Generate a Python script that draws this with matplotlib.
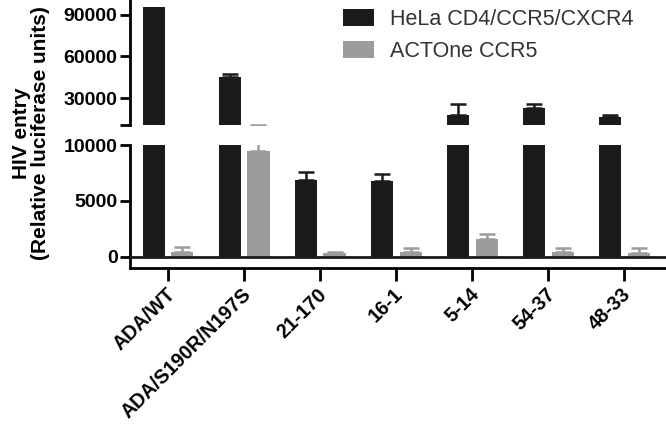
import numpy as np
import matplotlib
matplotlib.use("Agg")
import matplotlib.pyplot as plt
import matplotlib.transforms as mtransforms
from matplotlib.ticker import FixedLocator, FixedFormatter

plt.rcParams['font.family'] = ['Liberation Sans', 'DejaVu Sans']

# ---- data ----
strains = ["ADA/WT", "ADA/S190R/N197S", "21-170", "16-1", "5-14", "54-37", "48-33"]
hela = [96000, 45200, 6900, 6800, 17800, 22500, 16200]
hela_err = [np.nan, 2000, 650, 650, 8000, 3000, 1500]   # no visible bar on ADA/WT
actone = [450, 9500, 330, 450, 1600, 420, 350]
actone_err = [450, 1150, 120, 350, 450, 400, 450]
series_names = ["HeLa CD4/CCR5/CXCR4", "ACTOne CCR5"]

black = "#1b1b1b"
grey = "#9c9c9c"

fig = plt.figure(figsize=(6.66, 4.24), dpi=100)
ax_lo = fig.add_axes([130/666, 1-268/424, 1-130/666, 123/424])
ax_hi = fig.add_axes([130/666, 1-125/424, 1-130/666, 125/424])

x = np.arange(len(strains))
w = 0.29
off = 0.19

for ax in (ax_lo, ax_hi):
    ax.bar(x - off, hela, w, color=black, label=series_names[0], zorder=2)
    ax.bar(x + off, actone, w, color=grey, label=series_names[1], zorder=2)
    ok = ~np.isnan(hela_err)
    ax.errorbar((x - off)[ok], np.array(hela)[ok],
                yerr=[np.zeros(ok.sum()), np.array(hela_err)[ok]], fmt="none",
                ecolor=black, elinewidth=1.8, capsize=6, capthick=1.8, zorder=1)
    ax.errorbar(x + off, actone, yerr=[np.zeros(len(x)), actone_err], fmt="none",
                ecolor=grey, elinewidth=1.8, capsize=6, capthick=1.8, zorder=1)
    ax.set_xlim(-0.5, 6.55)
    for s in ("top", "right"):
        ax.spines[s].set_visible(False)
    ax.spines["left"].set_linewidth(2)
    ax.tick_params(axis="y", width=2, length=7, labelsize=14, pad=2)

# lower segment
ax_lo.set_ylim(-1000, 10000)
ax_lo.yaxis.set_major_locator(FixedLocator([0, 5000, 10000]))
ax_lo.yaxis.set_major_formatter(FixedFormatter(["0", "5000", "10000"]))
ax_lo.axhline(0, color=black, lw=2, zorder=3)
ax_lo.spines["bottom"].set_linewidth(2)
ax_lo.set_xticks(x)
ax_lo.set_xticklabels(strains, rotation=45, ha="right", va="center",
                      rotation_mode="anchor", fontsize=14.2, fontweight="bold")
ax_lo.tick_params(axis="x", width=2, length=9, pad=8)
shift = mtransforms.ScaledTranslation(4/100, 0, fig.dpi_scale_trans)
for lab in ax_lo.get_xticklabels():
    lab.set_transform(lab.get_transform() + shift)
for lab in ax_lo.get_yticklabels():
    lab.set_fontweight("bold")

# upper segment
ax_hi.set_ylim(10500, 100800)
ax_hi.yaxis.set_major_locator(FixedLocator([10500, 30000, 60000, 90000]))
ax_hi.yaxis.set_major_formatter(FixedFormatter(["", "30000", "60000", "90000"]))
ax_hi.spines["bottom"].set_visible(False)
ax_hi.set_xticks([])
for lab in ax_hi.get_yticklabels():
    lab.set_fontweight("bold")

fig.text(12/666, 1-133/424, "HIV entry\n(Relative luciferase units)", rotation=90,
         ha="left", va="center", fontsize=15, fontweight="bold", linespacing=1.0,
         multialignment="center")

h, l = ax_hi.get_legend_handles_labels()
leg = fig.legend(h, l, loc="upper left", bbox_to_anchor=(343/666, 1-9/424),
                 frameon=False, fontsize=15.5, handlelength=1.44, handleheight=0.8,
                 handletextpad=0.75, labelspacing=0.5, borderpad=0, borderaxespad=0)
for t in leg.get_texts():
    t.set_color("#333333")

fig.savefig("out.png", dpi=100)
